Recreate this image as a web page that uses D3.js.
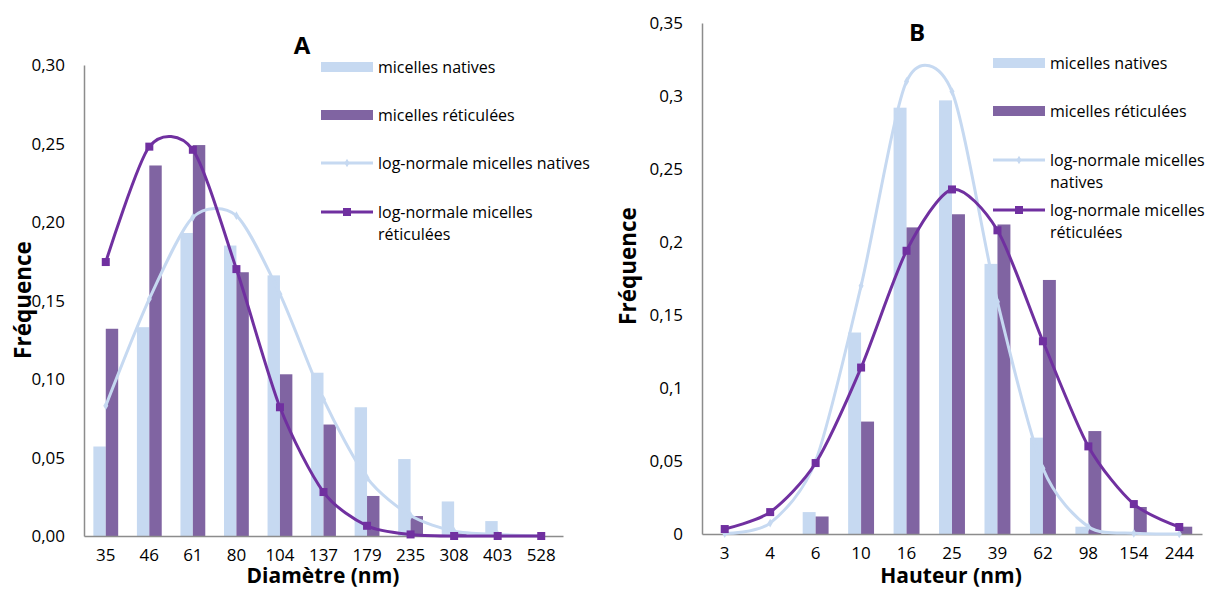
<!DOCTYPE html>
<html><head><meta charset="utf-8">
<script src="https://cdn.jsdelivr.net/npm/d3@7"></script>
<style>
body{margin:0;background:#fff;}
text{font-family:"Open Sans",sans-serif;fill:#000;}
</style></head>
<body><svg id="c" width="1214" height="590"></svg>
<script>
// ---- Panel A data ----
const catsA = ["35","46","61","80","104","137","179","235","308","403","528"];
const nativesA = [0.057,0.133,0.193,0.185,0.166,0.104,0.082,0.049,0.022,0.0095,0];
const reticA = [0.132,0.236,0.249,0.168,0.103,0.071,0.0255,0.0127,0.002,0,0];
const lnNativesA = [0.083,0.151,0.203,0.204,0.154,0.087,0.037,0.013,0.003,0.001,0];
const lnReticA = [0.1745,0.248,0.246,0.170,0.082,0.028,0.0065,0.001,0,0,0];
const yTicksA = [0,0.05,0.10,0.15,0.20,0.25,0.30];
// ---- Panel B data ----
const catsB = ["3","4","6","10","16","25","39","62","98","154","244"];
const nativesB = [0,0,0.015,0.138,0.292,0.297,0.185,0.066,0.005,0,0];
const reticB = [0,0,0.012,0.077,0.210,0.219,0.212,0.174,0.0705,0.0185,0.005];
const lnNativesB = [0.0003,0.0075,0.050,0.170,0.310,0.303,0.159,0.045,0.005,0.0005,0];
const lnReticB = [0.0034,0.015,0.0486,0.114,0.194,0.236,0.208,0.132,0.060,0.0205,0.0048];
const yTicksB = [0,0.05,0.1,0.15,0.2,0.25,0.3,0.35];
const legendLabels = ["micelles natives","micelles réticulées","log-normale micelles natives","log-normale micelles réticulées"];

const C_LIGHT = "#C6D9F1", C_PURPLE = "#8064A2", C_LINE_LIGHT = "#C6D9F1", C_LINE_DARK = "#7030A0", C_AXIS = "#8C8C8C";
const svg = d3.select("#c");

function panel(o){
  const g = svg.append("g");
  const x = d3.scaleBand().domain(o.cats).range([o.x0, o.x1]).padding(0);
  const y = d3.scaleLinear().domain([0, o.ymax]).range([o.y0, o.y1]);
  const bw = x.bandwidth()*0.285;
  const cx = c => x(c) + x.bandwidth()/2;
  // bars
  g.selectAll(".bn").data(o.cats).enter().append("rect")
    .attr("x", c => cx(c) - bw).attr("width", bw)
    .attr("y", (c,i) => y(o.nat[i])).attr("height", (c,i) => y(0) - y(o.nat[i]))
    .attr("fill", C_LIGHT);
  g.selectAll(".br").data(o.cats).enter().append("rect")
    .attr("x", c => cx(c)).attr("width", bw)
    .attr("y", (c,i) => y(o.ret[i])).attr("height", (c,i) => y(0) - y(o.ret[i]))
    .attr("fill", C_PURPLE);
  // axes
  const yAxis = d3.axisLeft(y).tickValues(o.yticks).tickSize(0).tickPadding(19).tickFormat(o.fmt);
  const ga = g.append("g").attr("transform", `translate(${o.x0},0)`).call(yAxis);
  ga.select(".domain").attr("stroke", C_AXIS).attr("stroke-width", 1.5);
  ga.selectAll("text").style("font-size","17px").attr("dy","0.35em");
  const xAxis = d3.axisBottom(x).tickSize(0).tickPadding(13);
  const gx = g.append("g").attr("transform", `translate(0,${o.y0})`).call(xAxis);
  gx.select(".domain").attr("stroke", C_AXIS).attr("stroke-width", 1.5);
  gx.selectAll("text").style("font-size","17px").attr("dy","0.71em");
  // lines
  const curve = d3.curveCardinal.tension(0.2);
  const line = d3.line().x((d,i)=>cx(o.cats[i])).y(d=>y(d)).curve(curve);
  g.append("path").datum(o.lnN).attr("d", line).attr("fill","none").attr("stroke",C_LINE_LIGHT).attr("stroke-width",3);
  g.selectAll(".mn").data(o.lnN).enter().append("path")
    .attr("d", d3.symbol(d3.symbolDiamond, 22)())
    .attr("transform",(d,i)=>`translate(${cx(o.cats[i])},${y(d)})`).attr("fill",C_LINE_LIGHT);
  g.append("path").datum(o.lnR).attr("d", line).attr("fill","none").attr("stroke",C_LINE_DARK).attr("stroke-width",3);
  g.selectAll(".mr").data(o.lnR).enter().append("rect")
    .attr("x",(d,i)=>cx(o.cats[i])-4).attr("y",d=>y(d)-4).attr("width",8).attr("height",8).attr("fill",C_LINE_DARK);
  // titles
  g.append("text").attr("x",o.tx).attr("y",o.ty).attr("text-anchor","middle").style("font-size","24px").style("font-weight","bold").text(o.title);
  g.append("text").attr("transform",`translate(${o.ylx},${o.yly}) rotate(-90)`).attr("text-anchor","middle").style("font-size","22.5px").style("font-weight","bold").text("Fréquence");
  g.append("text").attr("x",o.xlx).attr("y",o.xly).attr("text-anchor","middle").style("font-size","21px").style("font-weight","bold").text(o.xlabel);
  // legend
  const L = o.leg;
  const lg = g.append("g");
  const rows = L.rows;
  lg.append("rect").attr("x",L.x).attr("y",rows[0]-5).attr("width",52).attr("height",10).attr("fill",C_LIGHT);
  lg.append("rect").attr("x",L.x).attr("y",rows[1]-5).attr("width",52).attr("height",10).attr("fill",C_PURPLE);
  lg.append("line").attr("x1",L.x).attr("x2",L.x+52).attr("y1",rows[2]).attr("y2",rows[2]).attr("stroke",C_LINE_LIGHT).attr("stroke-width",3);
  lg.append("path").attr("d", d3.symbol(d3.symbolDiamond, 22)()).attr("transform",`translate(${L.x+26},${rows[2]})`).attr("fill",C_LINE_LIGHT);
  lg.append("line").attr("x1",L.x).attr("x2",L.x+52).attr("y1",rows[3]).attr("y2",rows[3]).attr("stroke",C_LINE_DARK).attr("stroke-width",3);
  lg.append("rect").attr("x",L.x+22).attr("y",rows[3]-4).attr("width",8).attr("height",8).attr("fill",C_LINE_DARK);
  L.texts.forEach((t,i)=>{
    const tx = lg.append("text").attr("x",L.x+57).attr("y",rows[i]).style("font-size","16px");
    t.forEach((ln,j)=>{ tx.append("tspan").attr("x",L.x+57).attr("dy", j===0?"0.35em":"1.4em").text(ln); });
  });
}

const fmtA = d => d3.format(".2f")(d).replace(".",",");
const fmtB = d => (d===0?"0":String(+d.toFixed(2)).replace(".",","));

panel({cats:catsA, nat:nativesA, ret:reticA, lnN:lnNativesA, lnR:lnReticA, yticks:yTicksA, ymax:0.30,
  x0:84, x1:563, y0:536, y1:65, fmt:fmtA, title:"A", tx:302, ty:54, ylx:31, yly:300,
  xlabel:"Diamètre (nm)", xlx:323, xly:583,
  leg:{x:321, rows:[67,115,163,212], texts:[[legendLabels[0]],[legendLabels[1]],[legendLabels[2]],["log-normale micelles","réticulées"]]}});

panel({cats:catsB, nat:nativesB, ret:reticB, lnN:lnNativesB, lnR:lnReticB, yticks:yTicksB, ymax:0.35,
  x0:702, x1:1202, y0:534, y1:23, fmt:fmtB, title:"B", tx:917, ty:41, ylx:636, yly:266,
  xlabel:"Hauteur (nm)", xlx:951, xly:583,
  leg:{x:993, rows:[63,111,160,210], texts:[[legendLabels[0]],[legendLabels[1]],["log-normale micelles","natives"],["log-normale micelles","réticulées"]]}});
</script></body></html>
